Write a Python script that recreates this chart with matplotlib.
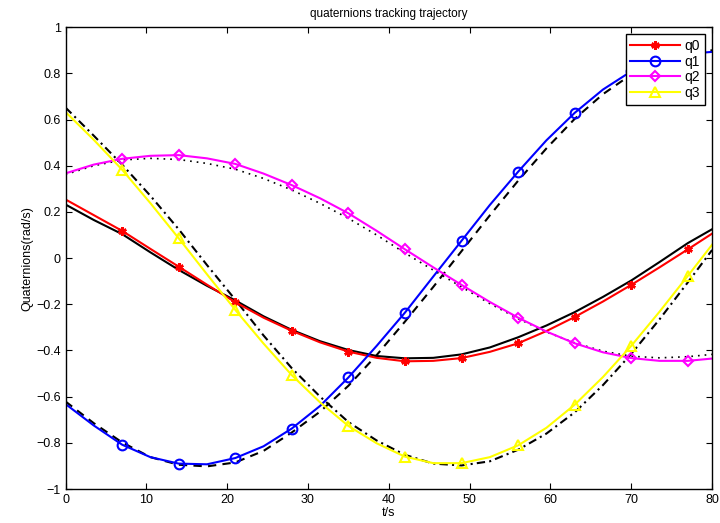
import numpy as np
import matplotlib
matplotlib.use("Agg")
import matplotlib.pyplot as plt

plt.rcParams['font.family'] = ['Liberation Sans', 'DejaVu Sans']

# tiempo (s)
t = [0, 3.5, 7, 10.5, 14, 17.5, 21, 24.5, 28, 31.5, 35, 38.5, 42, 45.5,
     49, 52.5, 56, 59.5, 63, 66.5, 70, 73.5, 77, 80]

# cuaterniones estimados
q0 = [0.254, 0.186, 0.118, 0.040, -0.037, -0.115, -0.191, -0.258, -0.315, -0.365,
      -0.405, -0.432, -0.447, -0.445, -0.433, -0.406, -0.369, -0.316, -0.255, -0.188,
      -0.116, -0.040, 0.038, 0.106]
q1 = [-0.632, -0.725, -0.808, -0.862, -0.890, -0.893, -0.866, -0.815, -0.738, -0.640,
      -0.517, -0.380, -0.236, -0.080, 0.075, 0.230, 0.374, 0.510, 0.629, 0.730,
      0.809, 0.860, 0.885, 0.893]
q2 = [0.367, 0.405, 0.430, 0.443, 0.446, 0.432, 0.408, 0.366, 0.316, 0.259,
      0.194, 0.118, 0.038, -0.040, -0.116, -0.190, -0.258, -0.318, -0.369, -0.408,
      -0.433, -0.445, -0.445, -0.435]
q3 = [0.633, 0.512, 0.383, 0.238, 0.086, -0.070, -0.224, -0.370, -0.507, -0.625,
      -0.727, -0.802, -0.860, -0.888, -0.888, -0.862, -0.811, -0.735, -0.635, -0.515,
      -0.380, -0.232, -0.077, 0.058]

# cuaterniones de referencia
r0 = [0.232, 0.165, 0.104, 0.025, -0.051, -0.120, -0.183, -0.252, -0.311, -0.360,
      -0.398, -0.424, -0.434, -0.432, -0.417, -0.387, -0.343, -0.292, -0.234, -0.168,
      -0.097, -0.017, 0.065, 0.125]
r1 = [-0.621, -0.715, -0.798, -0.862, -0.895, -0.902, -0.885, -0.835, -0.755, -0.665,
      -0.553, -0.420, -0.275, -0.125, 0.030, 0.185, 0.335, 0.475, 0.603, 0.710,
      0.795, 0.853, 0.888, 0.900]
r2 = [0.362, 0.400, 0.425, 0.432, 0.427, 0.410, 0.385, 0.345, 0.295, 0.237,
      0.172, 0.100, 0.022, -0.052, -0.125, -0.197, -0.262, -0.320, -0.367, -0.403,
      -0.425, -0.432, -0.427, -0.417]
r3 = [0.652, 0.530, 0.405, 0.270, 0.125, -0.030, -0.180, -0.335, -0.477, -0.600,
      -0.710, -0.790, -0.852, -0.890, -0.898, -0.880, -0.830, -0.760, -0.668, -0.550,
      -0.415, -0.265, -0.105, 0.035]

fig = plt.figure(figsize=(7.2, 5.23), dpi=100)
ax = fig.add_axes([0.091, 0.065, 0.898, 0.883])

mk = slice(2, None, 2)
ax.plot(t, r0, color='k', lw=1.5)
ax.plot(t, r1, color='k', lw=1.5, linestyle=(0, (4, 3)))
ax.plot(t, r2, color='k', lw=1.2, linestyle=(0, (1, 3)))
ax.plot(t, r3, color='k', lw=1.5, linestyle=(0, (4, 2, 1, 2)))

ax.plot(t, q0, color='red', lw=1.5, marker=(6, 2, 0), ms=6, mew=1.8, markevery=mk, label='q0')
ax.plot(t, q1, color='blue', lw=1.5, marker='o', ms=7, mfc='none', mew=1.5, markevery=mk, label='q1')
ax.plot(t, q2, color='magenta', lw=1.5, marker='D', ms=5.5, mfc='none', mew=1.5, markevery=mk, label='q2')
ax.plot(t, q3, color='yellow', lw=1.5, marker='^', ms=7, mfc='none', mew=1.5, markevery=mk, label='q3')

ax.set_xlim(0, 80)
ax.set_ylim(-1, 1)
ax.set_xticks(np.arange(0, 81, 10))
ax.set_yticks(np.arange(-1, 1.01, 0.2))
ax.set_yticklabels(['\u22121', '\u22120.8', '\u22120.6', '\u22120.4', '\u22120.2', '0',
                    '0.2', '0.4', '0.6', '0.8', '1'])
ax.tick_params(direction='in', top=True, right=True, length=4, labelsize=9)
for s in ax.spines.values():
    s.set_linewidth(1.0)

ax.set_xlabel('t/s', fontsize=9, labelpad=1)
ax.set_ylabel('Quaternions(rad/s)', fontsize=9, labelpad=2)
ax.set_title('quaternions tracking trajectory', fontsize=8.5, pad=7)

leg = ax.legend(loc='upper right', fontsize=10, fancybox=False, framealpha=1,
                edgecolor='k', borderpad=0.35, labelspacing=0.12, handlelength=3.6,
                handletextpad=0.3, borderaxespad=0.5)
leg.get_frame().set_linewidth(1.0)

fig.savefig('out.png', dpi=100)
